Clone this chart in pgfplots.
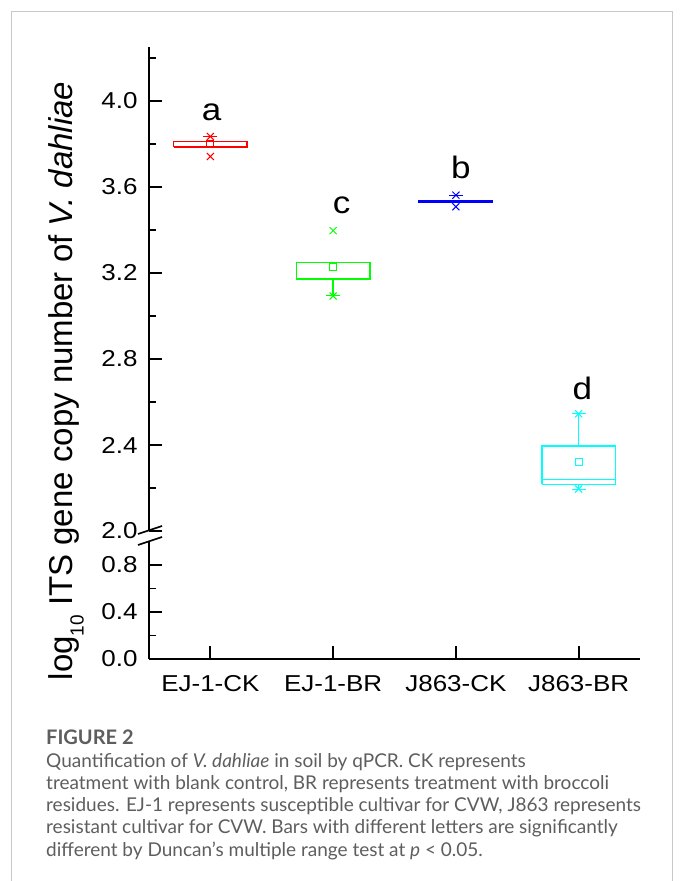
\documentclass[border=0pt]{standalone}
\usepackage{pgfplots}
\pgfplotsset{compat=1.18}
\usepackage{fontspec}
\setmainfont{Liberation Sans}
\newfontfamily\tickfont[FakeStretch=1.13]{Liberation Sans}
\newfontfamily\capfont{Lato}
\definecolor{capgray}{HTML}{5E5E5E}
\definecolor{framegray}{HTML}{C8C8C8}
\definecolor{ocyan}{HTML}{00FFFF}
\definecolor{ogreen}{HTML}{00FF00}

\pgfplotsset{
  brk/.style={
    scale only axis, width=491bp, xmin=0.5, xmax=4.5,
    axis y line*=left, clip=false,
    axis line style={line width=2bp, black},
    tick align=inside, major tick length=13bp, minor tick length=7bp,
    tick style={line width=1.8bp, black},
    /pgf/number format/.cd, fixed, fixed zerofill, precision=1, assume math mode=true,
    /pgfplots/.cd,
    ticklabel style={font=\tickfont\fontsize{23bp}{23bp}\selectfont},
    yticklabel style={xshift=-8bp},
  },
  ln/.style={line width=1.5bp, solid, mark=none},
  mk/.style={only marks, line width=1bp, mark options={solid}},
}

\begin{document}
\begin{tikzpicture}
\useasboundingbox (0,0) rectangle (681bp,881bp);
\fill[white] (0,0) rectangle (681bp,881bp);
\draw[framegray, line width=1bp] (11bp,-2bp) -- (11bp,869bp) -- (672bp,869bp) -- (672bp,-2bp);

% upper part of the broken axis
\begin{axis}[brk, at={(149bp,350bp)}, anchor=south west, height=484bp,
  ymin=2.0, ymax=4.2512, axis x line=none,
  ytick={2.0,2.4,2.8,3.2,3.6,4.0}, minor ytick={2.2,2.6,3.0,3.4,3.8,4.2}]
  % EJ-1-CK: box 3.787-3.811, mean 3.80
  \addplot[red, ln] coordinates {(0.7,3.787) (1.3,3.787) (1.3,3.811) (0.7,3.811) (0.7,3.787)};
  \addplot[red, mk, mark=square, mark size=3.5bp] coordinates {(1,3.80)};
  \addplot[red, mk, mark=x, mark size=5bp] coordinates {(1,3.835) (1,3.742)};
  \addplot[red, mk, mark=-, mark size=7bp] coordinates {(1,3.835)};
  % EJ-1-BR: box 3.171-3.248, whisker to 3.093, mean 3.23
  \addplot[ogreen, ln] coordinates {(1.7,3.171) (2.3,3.171) (2.3,3.248) (1.7,3.248) (1.7,3.171)};
  \addplot[ogreen, ln] coordinates {(2,3.171) (2,3.093)};
  \addplot[ogreen, mk, mark=square, mark size=3.5bp] coordinates {(2,3.23)};
  \addplot[ogreen, mk, mark=x, mark size=5bp] coordinates {(2,3.397) (2,3.093)};
  \addplot[ogreen, mk, mark=-, mark size=7bp] coordinates {(2,3.093)};
  % J863-CK: box 3.527-3.537, mean 3.532
  \addplot[blue, ln] coordinates {(2.7,3.527) (3.3,3.527) (3.3,3.537) (2.7,3.537) (2.7,3.527)};
  \addplot[blue, ln] coordinates {(2.7,3.532) (3.3,3.532)};
  \addplot[blue, mk, mark=x, mark size=5bp] coordinates {(3,3.562) (3,3.508)};
  \addplot[blue, mk, mark=-, mark size=7bp] coordinates {(3,3.562)};
  % J863-BR: box 2.217-2.395, median 2.24, whiskers 2.195-2.545, mean 2.32
  \addplot[ocyan, ln] coordinates {(3.7,2.217) (4.3,2.217) (4.3,2.395) (3.7,2.395) (3.7,2.217)};
  \addplot[ocyan, ln] coordinates {(3.7,2.24) (4.3,2.24)};
  \addplot[ocyan, ln] coordinates {(4,2.395) (4,2.545)};
  \addplot[ocyan, ln] coordinates {(4,2.217) (4,2.195)};
  \addplot[ocyan, mk, mark=square, mark size=3.5bp] coordinates {(4,2.32)};
  \addplot[ocyan, mk, mark=x, mark size=5bp] coordinates {(4,2.545) (4,2.195)};
  \addplot[ocyan, mk, mark=-, mark size=7bp] coordinates {(4,2.545) (4,2.195)};
  % significance letters
  \begin{scope}[every node/.style={anchor=base, font=\tickfont\fontsize{31bp}{31bp}\selectfont}]
    \node at (axis cs:1.01,3.907) {a};
    \node at (axis cs:2.07,3.478) {c};
    \node at (axis cs:3.04,3.640) {b};
    \node at (axis cs:4.03,2.613) {d};
  \end{scope}
\end{axis}

% lower part of the broken axis
\begin{axis}[brk, at={(149bp,222bp)}, anchor=south west, height=117.5bp,
  ymin=0, ymax=1.0, axis x line*=bottom,
  ytick={0.0,0.4,0.8}, minor ytick={0.2,0.6},
  xtick={1,2,3,4}, minor xtick={},
  xticklabels={EJ-1-CK,EJ-1-BR,J863-CK,J863-BR},
  xticklabel style={yshift=-13bp}]
\end{axis}

% axis break marks
\draw[black, line width=1.6bp] (138bp,347bp) -- (162bp,355bp);
\draw[black, line width=1.6bp] (138bp,336bp) -- (162bp,344bp);

% y label
\node[rotate=90, anchor=base, font=\fontsize{33bp}{33bp}\selectfont]
  at (72bp,500bp) {log\raisebox{-0.35em}{\fontsize{19bp}{19bp}\selectfont 10} ITS gene copy number of \textit{V. dahliae}};

% caption
\begin{scope}[every node/.style={anchor=base west, inner sep=0pt, text=capgray,
    font=\capfont\fontsize{19bp}{19bp}\selectfont}]
  \node[font=\capfont\bfseries\fontsize{20bp}{20bp}\selectfont] at (46bp,136bp) {FIGURE 2};
  \node at (46bp,113bp) {Quantification of \textit{V. dahliae} in soil by qPCR. CK represents};
  \node at (46bp,91bp) {treatment with blank control, BR represents treatment with broccoli};
  \node at (46bp,69bp) {residues. EJ-1 represents susceptible cultivar for CVW, J863 represents};
  \node at (46bp,47bp) {resistant cultivar for CVW. Bars with different letters are significantly};
  \node at (46bp,25bp) {different by Duncan’s multiple range test at \textit{p} < 0.05.};
\end{scope}
\end{tikzpicture}
\end{document}
